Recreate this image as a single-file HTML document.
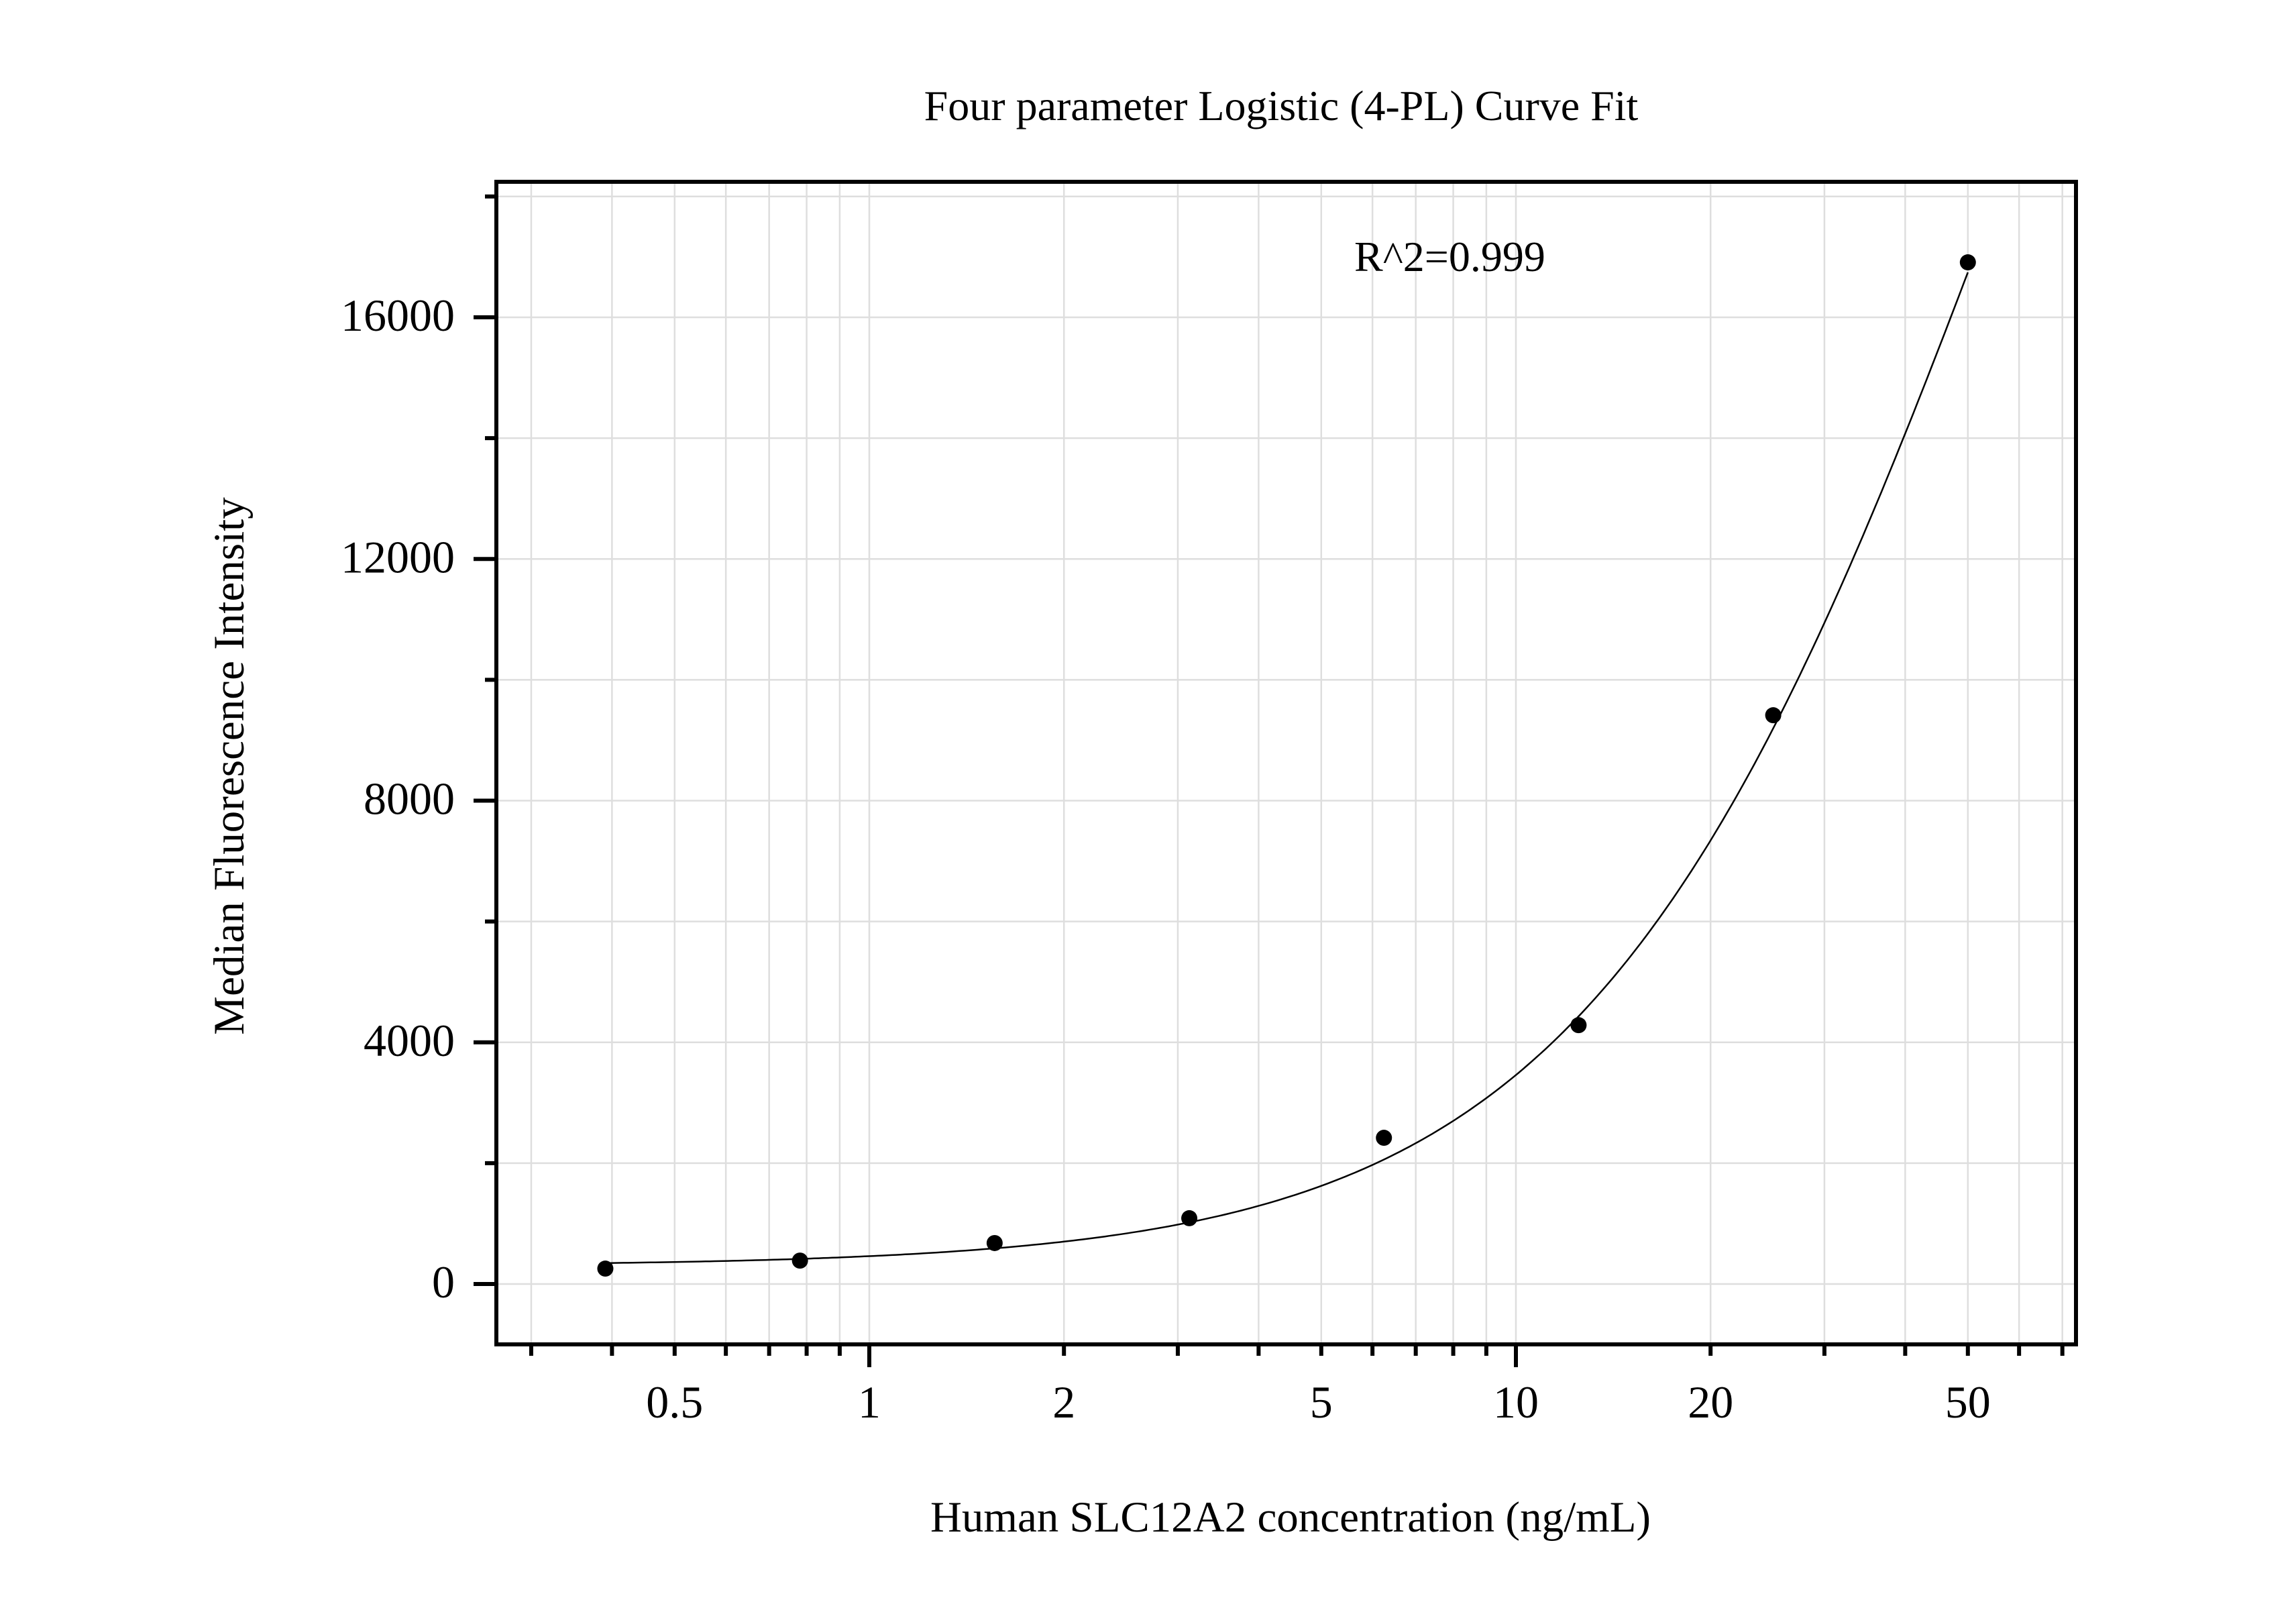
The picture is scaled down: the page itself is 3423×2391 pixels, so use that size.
<!DOCTYPE html>
<html><head><meta charset="utf-8"><style>
html,body{margin:0;padding:0;background:#fff;}
svg{display:block;font-family:"Liberation Serif","Times New Roman",serif;}
</style></head><body>
<svg id="chart" width="3423" height="2391" viewBox="0 0 3423 2391" xmlns="http://www.w3.org/2000/svg">
<rect x="0" y="0" width="3423" height="2391" fill="#fff"/>
<g id="grid"></g>
<g id="curve"></g>
<g id="points"></g>
<rect x="740" y="271" width="2355" height="1733" fill="none" stroke="#000" stroke-width="6"/>
<g id="axes"></g>
<text x="1910" y="179" font-size="64" text-anchor="middle">Four parameter Logistic (4-PL) Curve Fit</text>
<text x="2019" y="404" font-size="64">R^2=0.999</text>
<text x="1924" y="2283" font-size="65" text-anchor="middle">Human SLC12A2 concentration (ng/mL)</text>
<text x="0" y="0" font-size="65" text-anchor="middle" transform="translate(363,1142) rotate(-90)">Median Fluorescence Intensity</text>
</svg>
<script>
const concentrations = [0.390625, 0.78125, 1.5625, 3.125, 6.25, 12.5, 25, 50];
const mfiValues = [255, 387, 678, 1089, 2420, 4284, 9414, 16910];
const fitParams = [300, 37700, 60, 1.33]; // bottom, top, EC50, slope
const yTickValues = [0, 4000, 8000, 12000, 16000];
const yTickLabels = ["0", "4000", "8000", "12000", "16000"];
const yMinorValues = [2000, 6000, 10000, 14000, 18000];
const xTickValues = [0.5, 1, 2, 5, 10, 20, 50];
const xTickLabels = ["0.5", "1", "2", "5", "10", "20", "50"];
const xMinorValues = [0.3,0.4,0.5,0.6,0.7,0.8,0.9,2,3,4,5,6,7,8,9,20,30,40,50,60,70];
const xMajorValues = [1, 10];

const NS = "http://www.w3.org/2000/svg";
const X0 = 1296, XDEC = 964, Y0 = 1914, YSCALE = 1441/16000;
const LEFT = 740, RIGHT = 3095, TOP = 271, BOTTOM = 2004;
function xs(v){ return X0 + XDEC*Math.log10(v); }
function ys(v){ return Y0 - v*YSCALE; }
function mk(tag, attrs, parent){ const e=document.createElementNS(NS,tag); for(const k in attrs) e.setAttribute(k, attrs[k]); parent.appendChild(e); return e; }
function fit(x){ const [a,d,c,b]=fitParams; const f=Math.pow(x/c,b); return a+(d-a)*f/(1+f); }

const grid = document.getElementById('grid');
const axes = document.getElementById('axes');
xMinorValues.concat(xMajorValues).forEach(v=>{
  const l = mk('line',{x1:xs(v),x2:xs(v),y1:TOP,y2:BOTTOM,stroke:'#dedede','stroke-width':2.5},grid);
  
  
});
yTickValues.concat(yMinorValues).forEach(v=>{
  const l = mk('line',{x1:LEFT,x2:RIGHT,y1:ys(v),y2:ys(v),stroke:'#dedede','stroke-width':2.5},grid);
  
  
});
// y ticks
yTickValues.forEach((v,i)=>{
  const t = mk('line',{x1:706,x2:LEFT,y1:ys(v),y2:ys(v),stroke:'#000','stroke-width':6},axes);
  
  
  const tx = mk('text',{x:678,y:ys(v)+20,'font-size':68,'text-anchor':'end'},axes);
  tx.textContent = yTickLabels[i];
  
  
});
yMinorValues.forEach(v=>{
  const t = mk('line',{x1:723,x2:LEFT,y1:ys(v),y2:ys(v),stroke:'#000','stroke-width':6},axes);
  
  
});
// x ticks
xMinorValues.forEach(v=>{
  const t = mk('line',{x1:xs(v),x2:xs(v),y1:BOTTOM,y2:2021,stroke:'#000','stroke-width':6},axes);
  
  
});
xMajorValues.forEach(v=>{
  const t = mk('line',{x1:xs(v),x2:xs(v),y1:BOTTOM,y2:2038,stroke:'#000','stroke-width':6},axes);
  
  
});
xTickValues.forEach((v,i)=>{
  const tx = mk('text',{x:xs(v),y:2113,'font-size':68,'text-anchor':'middle'},axes);
  tx.textContent = xTickLabels[i];
  
  
});
// curve
const cg = document.getElementById('curve');
let d = '';
const lx0 = Math.log10(concentrations[0]), lx1 = Math.log10(concentrations[concentrations.length-1]);
for(let i=0;i<=300;i++){
  const x = Math.pow(10, lx0 + (lx1-lx0)*i/300);
  d += (i?'L':'M') + xs(x).toFixed(1) + ' ' + ys(fit(x)).toFixed(1);
}
const path = mk('path',{d:d,fill:'none',stroke:'#000','stroke-width':2.5},cg);


// points
const pg = document.getElementById('points');
concentrations.forEach((c,i)=>{
  const p = mk('circle',{cx:xs(c),cy:ys(mfiValues[i]),r:12,fill:'#000'},pg);
  
  
});
</script>
</body></html>
